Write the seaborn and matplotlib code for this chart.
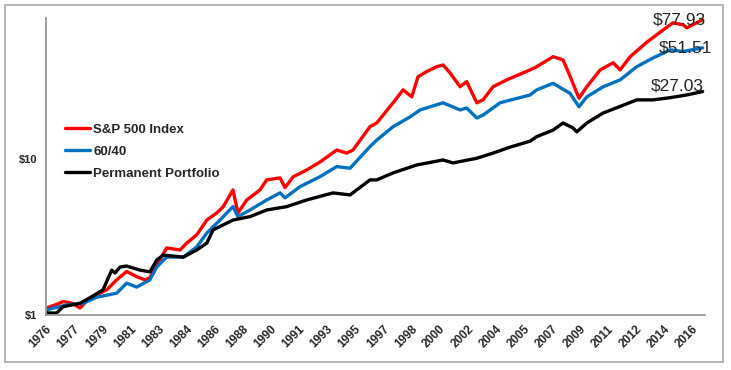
import numpy as np
import pandas as pd
import seaborn as sns
import matplotlib.pyplot as plt
from matplotlib.patches import Rectangle

# growth of $1
sp_years = [1976.0, 1976.06, 1976.58, 1977.10, 1977.64, 1978.14, 1978.38, 1978.76, 1979.26, 1979.80,
            1980.42, 1981.04, 1981.67, 1982.18, 1982.49, 1982.81, 1983.53, 1984.36, 1984.78, 1985.40,
            1986.03, 1986.65, 1987.04, 1987.66, 1987.97, 1988.52, 1989.34, 1989.76, 1990.59, 1990.90,
            1991.40, 1992.25, 1993.08, 1994.12, 1994.74, 1995.13, 1996.19, 1996.61, 1997.63, 1998.25,
            1998.79, 1999.18, 1999.72, 2000.35, 2000.74, 2001.18, 2001.80, 2002.21, 2002.84, 2003.23,
            2003.85, 2004.70, 2006.16, 2006.57, 2007.59, 2008.21, 2008.65, 2009.20, 2009.69, 2010.52,
            2011.33, 2011.76, 2012.39, 2013.42, 2014.44, 2015.06, 2015.69, 2015.91, 2016.90]
sp_vals = [1.0, 1.11, 1.16, 1.22, 1.19, 1.11, 1.18, 1.29, 1.36, 1.45,
           1.68, 1.90, 1.76, 1.68, 1.73, 2.00, 2.69, 2.61, 2.89, 3.26,
           4.06, 4.51, 4.92, 6.33, 4.51, 5.46, 6.33, 7.34, 7.56, 6.55,
           7.67, 8.50, 9.56, 11.4, 10.9, 11.4, 16.1, 17.0, 22.9, 27.7,
           25.0, 33.6, 36.3, 39.0, 40.0, 35.5, 29.0, 31.3, 22.9, 23.9,
           29.0, 32.1, 37.2, 39.0, 45.2, 43.1, 33.8, 24.5, 29.0, 37.2,
           41.3, 37.2, 45.2, 55.9, 67.1, 74.5, 72.3, 69.2, 77.93]

bal_years = [1976.0, 1976.06, 1977.31, 1978.34, 1979.18, 1979.80, 1980.42, 1981.04, 1981.67, 1982.49,
             1982.91, 1983.53, 1984.57, 1985.40, 1986.03, 1986.85, 1987.66, 1987.97, 1988.72, 1989.76,
             1990.59, 1990.90, 1991.83, 1993.08, 1994.12, 1994.95, 1996.19, 1996.61, 1997.63, 1998.69,
             1999.31, 2000.74, 2001.80, 2002.21, 2002.84, 2003.23, 2004.29, 2006.16, 2006.57, 2007.59,
             2008.65, 2009.20, 2009.69, 2010.71, 2011.76, 2012.80, 2013.82, 2014.88, 2015.69, 2016.90]
bal_vals = [1.0, 1.08, 1.16, 1.19, 1.30, 1.34, 1.38, 1.60, 1.51, 1.68,
            2.03, 2.35, 2.35, 2.73, 3.35, 4.06, 4.95, 4.27, 4.71, 5.46,
            6.06, 5.63, 6.64, 7.70, 8.93, 8.72, 12.0, 13.2, 16.1, 18.6,
            20.6, 22.9, 20.6, 21.2, 18.3, 19.1, 22.9, 25.7, 27.7, 30.5,
            26.3, 21.6, 25.0, 29.0, 32.1, 39.0, 44.4, 50.0, 48.8, 51.51]

pp_years = [1976.0, 1976.06, 1976.68, 1977.08, 1978.14, 1978.76, 1979.57, 1980.11, 1980.32, 1980.63,
            1981.04, 1981.87, 1982.49, 1982.91, 1983.32, 1984.57, 1985.40, 1986.03, 1986.42, 1987.66,
            1988.72, 1989.76, 1991.01, 1992.25, 1993.89, 1994.95, 1996.19, 1996.61, 1997.63, 1999.10,
            2000.74, 2001.36, 2002.84, 2003.85, 2004.91, 2006.16, 2006.57, 2007.59, 2008.21, 2008.83,
            2009.06, 2009.69, 2010.71, 2011.76, 2012.80, 2013.82, 2014.88, 2015.91, 2016.90]
pp_vals = [1.0, 1.03, 1.03, 1.13, 1.19, 1.29, 1.45, 1.94, 1.86, 2.03,
           2.06, 1.94, 1.89, 2.25, 2.42, 2.35, 2.61, 2.89, 3.51, 4.06,
           4.27, 4.71, 4.95, 5.46, 6.06, 5.88, 7.34, 7.34, 8.14, 9.15,
           9.85, 9.43, 10.1, 10.9, 11.9, 13.0, 13.9, 15.3, 17.0, 15.8,
           14.9, 17.0, 19.7, 21.7, 23.9, 23.9, 24.7, 25.7, 27.03]

series_names = ['S&P 500 Index', '60/40', 'Permanent Portfolio']
series_colors = ['#FF0000', '#0070C0', '#000000']
end_labels = ['$77.93', '$51.51', '$27.03']

tick_labels = ['1976', '1977', '1979', '1981', '1983', '1984', '1986', '1988', '1990', '1991',
               '1993', '1995', '1997', '1998', '2000', '2002', '2004', '2005', '2007', '2009',
               '2011', '2012', '2014', '2016']

df = pd.concat([
    pd.DataFrame({'year': sp_years, 'value': sp_vals, 'series': series_names[0]}),
    pd.DataFrame({'year': bal_years, 'value': bal_vals, 'series': series_names[1]}),
    pd.DataFrame({'year': pp_years, 'value': pp_vals, 'series': series_names[2]}),
], ignore_index=True)

sns.set_style('white')
plt.rcParams['font.family'] = ['Liberation Sans', 'DejaVu Sans']

fig = plt.figure(figsize=(7.31, 3.70), dpi=100)
ax = fig.add_axes([0.0625, 0.1486, 0.902, 0.8028])

sns.lineplot(data=df, x='year', y='value', hue='series', hue_order=series_names,
             palette=dict(zip(series_names, series_colors)), estimator=None, sort=False,
             linewidth=2.4, ax=ax)

ax.set_yscale('log')
ax.set_ylim(1, 80)
ax.set_xlim(1976, 2017.05)
ax.set_yticks([1, 10])
ax.set_yticklabels(['$1', '$10'], fontweight='bold', fontsize=8)
ax.yaxis.set_minor_locator(plt.NullLocator())

# category axis every 21 months, like the original spreadsheet
tick_pos = 1976 + np.arange(len(tick_labels)) * 1.75
ax.set_xticks(tick_pos)
ax.set_xticklabels(tick_labels, rotation=45, ha='right', rotation_mode='anchor',
                   fontweight='bold', fontsize=8.5)
ax.tick_params(axis='both', direction='out', length=4, width=1, color='#999999', pad=2)
ax.set_xlabel('')
ax.set_ylabel('')

for side in ['top', 'right']:
    ax.spines[side].set_visible(False)
for side in ['left', 'bottom']:
    ax.spines[side].set_color('#999999')
    ax.spines[side].set_linewidth(1.3)

leg = ax.legend(loc='upper left', bbox_to_anchor=(0.029, 0.645), frameon=False,
                prop={'weight': 'bold', 'size': 9.5}, handlelength=1.9,
                handletextpad=0.25, labelspacing=0.74, borderpad=0, borderaxespad=0)
for line in leg.get_lines():
    line.set_linewidth(2.4)

offsets = [(-23, 0), (-17, 0), (-25, 6)]
for ys, vs, lab, off in zip([sp_years, bal_years, pp_years], [sp_vals, bal_vals, pp_vals],
                            end_labels, offsets):
    ax.annotate(lab, (ys[-1], vs[-1]), xytext=off, textcoords='offset pixels',
                ha='center', va='center', fontsize=12.5)

fig.patches.append(Rectangle((5 / 731, 8 / 370), 718 / 731, 357 / 370, transform=fig.transFigure,
                             fill=False, edgecolor='#AAAAAA', linewidth=1.2))

fig.savefig('out.png', dpi=100)
